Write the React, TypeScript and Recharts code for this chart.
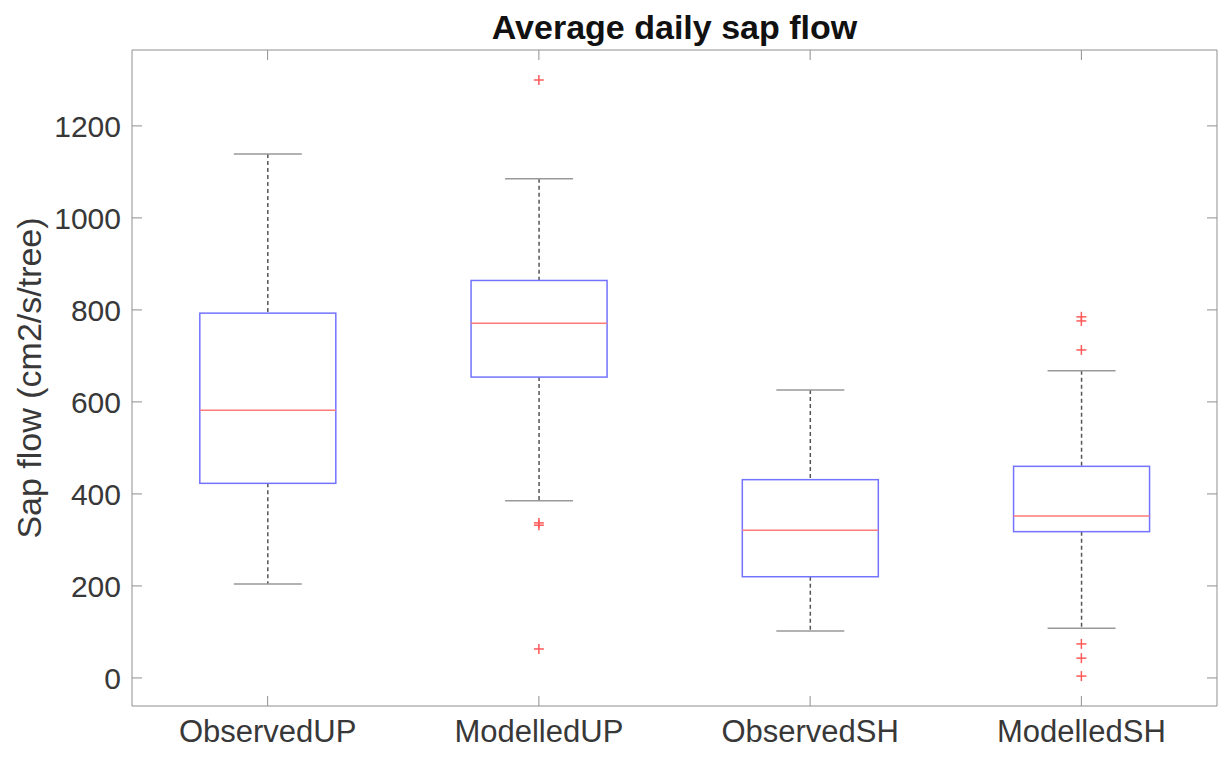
import React from "react";
import {
	Bar,
	ComposedChart,
	Scatter,
	XAxis,
	YAxis,
} from "recharts";

// boxplot statistics
const groups = ["ObservedUP", "ModelledUP", "ObservedSH", "ModelledSH"];
const whiskerLow = [204, 385, 102, 108];
const q1 = [423, 654, 220, 318];
const median = [582, 771, 321, 352];
const q3 = [793, 864, 431, 460];
const whiskerHigh = [1139, 1085, 626, 668];
const outliers = [[], [1300, 337, 332, 63], [], [785, 776, 713, 74, 43, 4]];

const yTicks = [0, 200, 400, 600, 800, 1000, 1200];
const yDomain = [-61, 1365];

const maxOutliers = Math.max(...outliers.map((o) => o.length));
const outlierKeys = Array.from({ length: maxOutliers }, (_, i) => `o${i}`);

const data = groups.map((name, i) => {
	const row: Record<string, any> = {
		name,
		low: whiskerLow[i],
		q1: q1[i],
		median: median[i],
		q3: q3[i],
		high: whiskerHigh[i],
	};
	outlierKeys.forEach((k, j) => {
		row[k] = outliers[i][j] ?? null;
	});
	return row;
});

const FONT = "'Liberation Sans', Arial, Helvetica, sans-serif";
const AXIS = "#8f8f8f";
const TEXT = "#383838";

function BoxShape(props: any) {
	const { x, y, width, height, payload } = props;
	if (x == null || y == null) return <g />;
	const top = Math.min(y, y + height);
	const bottom = Math.max(y, y + height);
	// bar spans low..high, map the other stats with the same linear scale
	const px = (v: number) =>
		bottom - ((v - payload.low) / (payload.high - payload.low)) * (bottom - top);
	const cx = x + width / 2;
	const capHalf = width / 4;
	const yq1 = px(payload.q1);
	const yq3 = px(payload.q3);
	const ymed = px(payload.median);
	return (
		<g>
			<line x1={cx} x2={cx} y1={top} y2={yq3} stroke="#555" strokeWidth={1.5} strokeDasharray="4 3" />
			<line x1={cx} x2={cx} y1={yq1} y2={bottom} stroke="#555" strokeWidth={1.5} strokeDasharray="4 3" />
			<line x1={cx - capHalf} x2={cx + capHalf} y1={top} y2={top} stroke="#999" strokeWidth={1.5} />
			<line x1={cx - capHalf} x2={cx + capHalf} y1={bottom} y2={bottom} stroke="#999" strokeWidth={1.5} />
			<rect x={x} y={yq3} width={width} height={yq1 - yq3} fill="none" stroke="#7373ff" strokeWidth={1.5} />
			<line x1={x} x2={x + width} y1={ymed} y2={ymed} stroke="#ff7a7a" strokeWidth={1.5} />
		</g>
	);
}

function PlusShape(props: any) {
	const { cx, cy } = props;
	if (cx == null || cy == null || Number.isNaN(cy)) return <g />;
	const s = 5;
	return (
		<g stroke="#ff5a5a" strokeWidth={1.5}>
			<line x1={cx - s} x2={cx + s} y1={cy} y2={cy} />
			<line x1={cx} x2={cx} y1={cy - s} y2={cy + s} />
		</g>
	);
}

export default function App() {
	return (
		<div
			style={{
				position: "absolute",
				left: 0,
				top: 0,
				width: 1232,
				height: 762,
				background: "#fff",
				fontFamily: FONT,
			}}
		>
			<div
				style={{
					position: "absolute",
					left: 132,
					width: 1085,
					top: 8,
					textAlign: "center",
					fontSize: 34,
					fontWeight: "bold",
					color: "#111",
				}}
			>
				Average daily sap flow
			</div>
			<ComposedChart
				width={1232}
				height={762}
				data={data}
				margin={{ top: 0, right: 0, bottom: 0, left: 0 }}
				barCategoryGap="25%"
			>
				<XAxis
					dataKey="name"
					xAxisId="b"
					height={56}
					allowDuplicatedCategory={false}
					stroke={AXIS}
					tickSize={-10}
					tickMargin={24}
					tick={{ fill: TEXT, fontSize: 31, fontFamily: FONT }}
				/>
				<XAxis
					dataKey="name"
					xAxisId="t"
					orientation="top"
					height={50}
					allowDuplicatedCategory={false}
					stroke={AXIS}
					tickSize={-10}
					tickFormatter={() => ""}
				/>
				<YAxis
					yAxisId="l"
					width={132}
					domain={yDomain}
					ticks={yTicks}
					type="number"
					allowDataOverflow
					stroke={AXIS}
					tickSize={-10}
					tickMargin={21}
					tick={{ fill: TEXT, fontSize: 30, fontFamily: FONT }}
					label={{
						value: "Sap flow (cm2/s/tree)",
						angle: -90,
						position: "insideLeft",
						offset: 29,
						style: { fill: TEXT, fontSize: 34, fontFamily: FONT, textAnchor: "middle" },
					}}
				/>
				<YAxis
					yAxisId="r"
					orientation="right"
					width={15}
					domain={yDomain}
					ticks={yTicks}
					type="number"
					allowDataOverflow
					stroke={AXIS}
					tickSize={-10}
					tickFormatter={() => ""}
				/>
				<Bar
					xAxisId="b"
					yAxisId="l"
					dataKey={(d: any) => [d.low, d.high]}
					shape={<BoxShape />}
					isAnimationActive={false}
				/>
				{outlierKeys.map((k) => (
					<Scatter
						key={k}
						xAxisId="b"
						yAxisId="l"
						dataKey={k}
						shape={<PlusShape />}
						isAnimationActive={false}
					/>
				))}
			</ComposedChart>
		</div>
	);
}
